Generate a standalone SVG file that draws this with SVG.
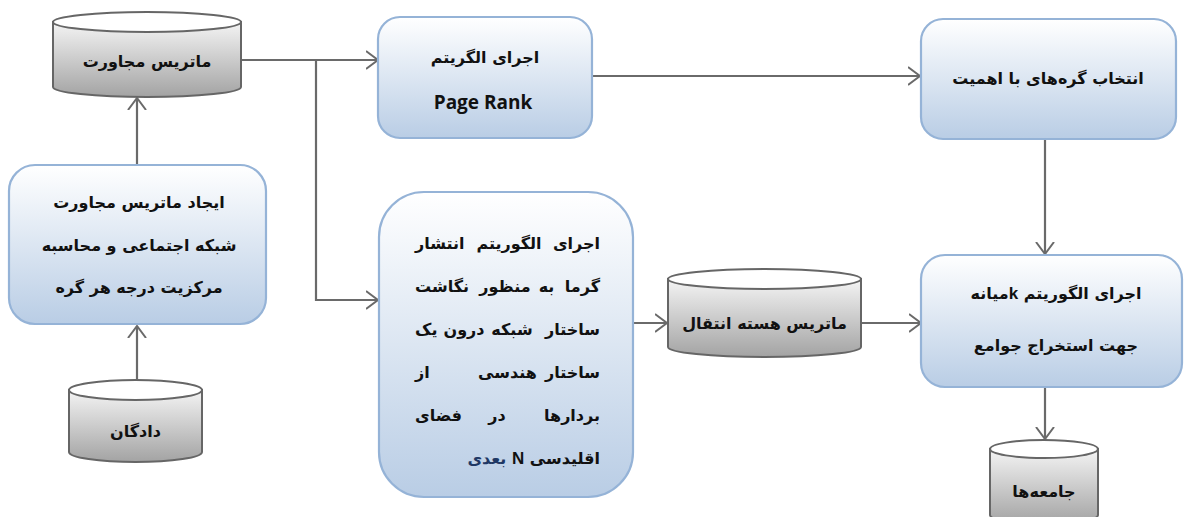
<svg xmlns="http://www.w3.org/2000/svg" width="1185" height="517" viewBox="0 0 1185 517">
<defs>
<linearGradient id="gBox" x1="0" y1="0" x2="0" y2="1">
<stop offset="0" stop-color="#ffffff"/>
<stop offset="1" stop-color="#b9cde5"/>
</linearGradient>
<linearGradient id="gCyl" x1="0" y1="0" x2="0" y2="1">
<stop offset="0" stop-color="#f4f4f4"/>
<stop offset="1" stop-color="#a3a3a3"/>
</linearGradient>
<marker id="arr" markerUnits="userSpaceOnUse" viewBox="0 0 13 20" markerWidth="13" markerHeight="20" refX="12" refY="10" orient="auto">
<path d="M0,1 L12,10 L0,19" fill="none" stroke="#6a6a6a" stroke-width="2"/>
</marker>
</defs>
<style>
.box{fill:url(#gBox);stroke:#95b3d7;stroke-width:2.2}
.cyl{fill:url(#gCyl);stroke:#666;stroke-width:2}
.top{fill:#fff;stroke:#666;stroke-width:2}
.con{fill:none;stroke:#6a6a6a;stroke-width:2.2}
.fa{font-family:"DejaVu Sans",sans-serif;font-weight:bold;font-size:16px;fill:#111;direction:rtl;unicode-bidi:embed}
.w{font-family:"DejaVu Sans",sans-serif;font-weight:bold;font-size:16px;fill:#111}
.en{font-family:"Open Sans","Liberation Sans",sans-serif;font-weight:bold;font-size:19px;fill:#111}
.lat{font-family:"Liberation Sans",sans-serif;font-weight:bold;font-size:17px}
</style>
<rect width="1185" height="517" fill="#fff"/>
<g id="connectors">
<path class="con" d="M241,60 H378" marker-end="url(#arr)"/>
<path class="con" d="M316,60 V300 H378" marker-end="url(#arr)"/>
<path class="con" d="M137,165 V98" marker-end="url(#arr)"/>
<path class="con" d="M137,379 V326" marker-end="url(#arr)"/>
<path class="con" d="M592,76 H920" marker-end="url(#arr)"/>
<path class="con" d="M1045,140 V254" marker-end="url(#arr)"/>
<path class="con" d="M633,323 H667" marker-end="url(#arr)"/>
<path class="con" d="M861,323 H921" marker-end="url(#arr)"/>
<path class="con" d="M1045,387 V439" marker-end="url(#arr)"/>
</g>
<g id="adj-matrix">
<path class="cyl" d="M53,22 V87 A94,10 0 0 0 241,87 V22 Z"/>
<ellipse class="top" cx="147" cy="22" rx="94" ry="10"/>
<text class="fa" x="147" y="67" text-anchor="middle">ماتریس مجاورت</text>
</g>
<g id="create-matrix">
<rect class="box" x="9" y="165" width="257" height="159" rx="26"/>
<text class="fa" x="139" y="208" text-anchor="middle">ایجاد ماتریس مجاورت</text>
<text class="fa" x="139" y="251" text-anchor="middle">شبکه اجتماعی و محاسبه</text>
<text class="fa" x="139" y="293" text-anchor="middle">مرکزیت درجه هر گره</text>
</g>
<g id="data">
<path class="cyl" d="M69,390 V452 A66.5,10 0 0 0 202,452 V390 Z"/>
<ellipse class="top" cx="135.5" cy="390" rx="66.5" ry="10"/>
<text class="fa" x="135.5" y="437" text-anchor="middle">دادگان</text>
</g>
<g id="pagerank">
<rect class="box" x="378" y="17" width="214" height="121" rx="22"/>
<text class="fa" x="485" y="63" text-anchor="middle">اجرای الگریتم</text>
<text class="en" x="483" y="109" text-anchor="middle">Page Rank</text>
</g>
<g id="select">
<rect class="box" x="921" y="19" width="255" height="120" rx="22"/>
<text class="fa" x="1048" y="84" text-anchor="middle">انتخاب گره‌های با اهمیت</text>
</g>
<g id="heat">
<rect class="box" x="379" y="192" width="254" height="305" rx="45"/>
<text class="w" x="600" y="249" text-anchor="end">اجرای</text>
<text class="w" x="509" y="249" text-anchor="middle">الگوریتم</text>
<text class="w" x="415" y="249" text-anchor="start">انتشار</text>
<text class="w" x="600" y="292" text-anchor="end">گرما</text>
<text class="w" x="546.5" y="292" text-anchor="middle">به</text>
<text class="w" x="505" y="292" text-anchor="middle">منظور</text>
<text class="w" x="415" y="292" text-anchor="start">نگاشت</text>
<text class="w" x="600" y="335" text-anchor="end">ساختار</text>
<text class="w" x="512" y="335" text-anchor="middle">شبکه</text>
<text class="w" x="464" y="335" text-anchor="middle">درون</text>
<text class="w" x="415" y="335" text-anchor="start">یک</text>
<text class="w" x="600" y="378" text-anchor="end">ساختار</text>
<text class="w" x="507.5" y="378" text-anchor="middle">هندسی</text>
<text class="w" x="415" y="378" text-anchor="start">از</text>
<text class="w" x="600" y="421" text-anchor="end">بردارها</text>
<text class="w" x="497" y="421" text-anchor="middle">در</text>
<text class="w" x="415" y="421" text-anchor="start">فضای</text>
<text class="fa" x="600" y="464">اقلیدسی <tspan class="lat">N</tspan> <tspan fill="#1f3864">بعدی</tspan></text>
</g>
<g id="kernel">
<path class="cyl" d="M668,279 V347 A96.5,10 0 0 0 861,347 V279 Z"/>
<ellipse class="top" cx="764.5" cy="279" rx="96.5" ry="10"/>
<text class="fa" x="764.5" y="329" text-anchor="middle">ماتریس هسته انتقال</text>
</g>
<g id="kmeans">
<rect class="box" x="921" y="255" width="261" height="132" rx="24"/>
<text class="fa" x="1056" y="299" text-anchor="middle">اجرای الگوریتم <tspan class="lat">k</tspan>میانه</text>
<text class="fa" x="1056" y="351" text-anchor="middle">جهت استخراج جوامع</text>
</g>
<g id="communities">
<path class="cyl" d="M990,449 V515 A54,9 0 0 0 1098,515 V449 Z"/>
<ellipse class="top" cx="1044" cy="449" rx="54" ry="9"/>
<text class="fa" x="1044" y="497" text-anchor="middle">جامعه‌ها</text>
</g>
</svg>
